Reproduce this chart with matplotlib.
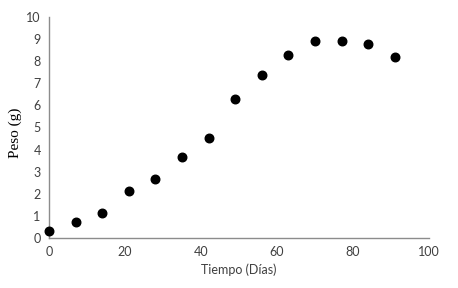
import matplotlib.pyplot as plt

dias = [0, 7, 14, 21, 28, 35, 42, 49, 56, 63, 70, 77, 84, 91]
peso = [0.32, 0.72, 1.12, 2.13, 2.67, 3.66, 4.51, 6.28, 7.36, 8.27, 8.9, 8.9, 8.76, 8.2]

fig = plt.figure(figsize=(4.58, 2.88), dpi=100)
ax = fig.add_axes([0.107, 0.1736, 0.83, 0.7674])

ax.scatter(dias, peso, s=38, color='black', zorder=3, clip_on=False)

ax.set_xlim(0, 100)
ax.set_ylim(0, 10)
ax.set_xticks(range(0, 101, 20))
ax.set_yticks(range(0, 11))

for side in ['top', 'right']:
    ax.spines[side].set_visible(False)
for side in ['left', 'bottom']:
    ax.spines[side].set_color('#8c8c8c')
    ax.spines[side].set_linewidth(1.0)

ax.tick_params(length=0, pad=6, labelsize=9, labelcolor='#404040')
for lbl in ax.get_xticklabels() + ax.get_yticklabels():
    lbl.set_family('Lato')

ax.set_xlabel('Tiempo (Días)', family='Lato', fontsize=9, color='#404040', labelpad=4)
# y label sits a bit below the middle of the axis, like the original
fig.text(15 / 458, 1 - 133 / 288, 'Peso (g)', family='Liberation Serif', fontsize=11,
         color='black', rotation=90, ha='center', va='center')

fig.savefig('out.png', dpi=100)
